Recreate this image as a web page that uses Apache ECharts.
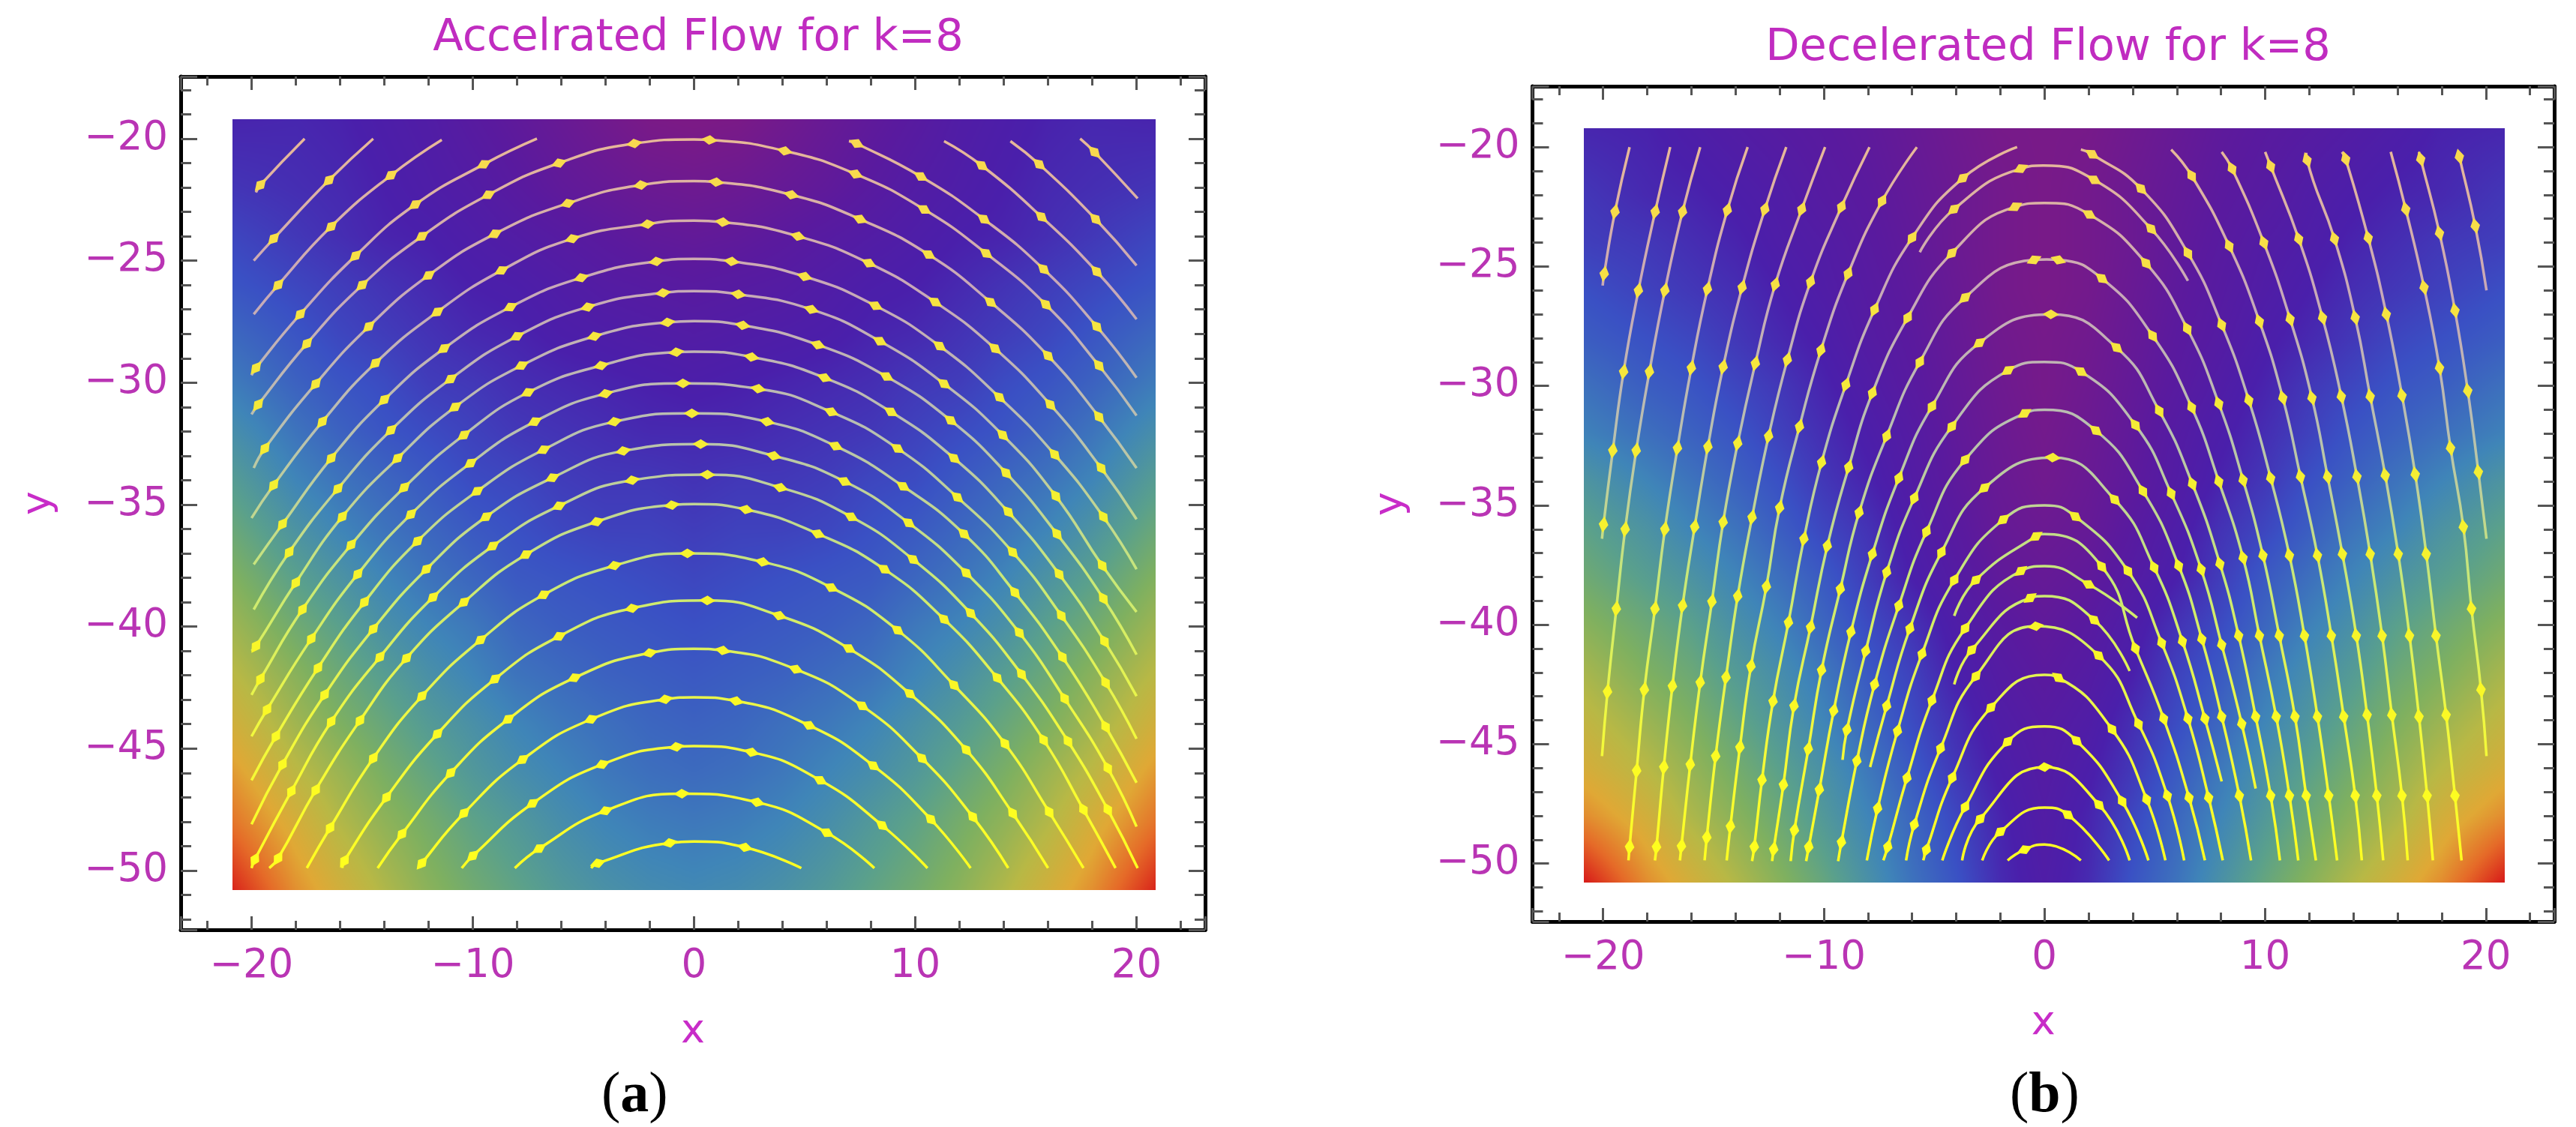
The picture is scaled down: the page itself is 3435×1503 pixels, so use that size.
<!DOCTYPE html>
<html>
<head>
<meta charset="utf-8">
<title>Accelerated and decelerated flow for k=8</title>
<style>html,body{margin:0;padding:0;background:#fff}#chart{width:3435px;height:1503px}</style>
<script src="https://cdn.jsdelivr.net/npm/echarts@6/dist/echarts.min.js"></script>
</head>
<body>
<div id="chart"></div>
<script>
// ---- Colour field, 0..100 on the colour scale. Columns x = -20..0 (picture is mirror-symmetric), rows y = -20..-50.
const fieldX = [-20,-18,-16,-14,-12,-10,-8,-6,-4,-2,0];
const fieldY = [-20,-22,-24,-26,-28,-30,-32,-34,-36,-38,-40,-42,-44,-46,-48,-50];
const accelField = [
[22,22,21,19,17,14,11,8,5,2,1],
[24,23,22,20,18,16,13,10,8,6,5],
[27,25,23,21,20,18,16,14,12,10,9],
[30,28,26,24,22,20,19,17,15,14,13],
[34,31,28,26,24,22,21,19,18,17,16],
[38,34,31,29,26,25,23,22,21,20,19],
[43,38,34,31,29,27,25,24,23,22,22],
[48,42,38,35,32,29,28,26,25,25,24],
[53,47,42,38,35,32,30,28,27,27,26],
[58,52,47,42,38,35,32,31,30,29,28],
[63,57,52,46,42,39,35,33,32,31,30],
[68,62,56,51,46,42,38,36,34,33,32],
[73,66,60,55,50,46,42,39,37,35,34],
[79,71,65,59,54,49,45,42,39,37,36],
[85,77,69,63,58,53,49,45,42,40,39],
[92,82,74,67,61,56,52,48,45,43,42]];
const decelField = [
[22,21,19,17,15,13,11,8,5,2,1],
[24,22,21,19,17,14,12,9,6,3,1],
[26,25,23,21,18,16,13,10,6,3,1],
[29,27,25,23,20,17,14,11,7,3,1],
[32,30,28,25,22,19,15,12,8,4,2],
[36,33,31,28,25,21,17,13,9,5,2],
[40,37,34,31,27,23,19,15,10,6,3],
[46,42,38,34,30,25,21,16,11,7,4],
[51,47,42,38,33,28,24,18,13,8,6],
[55,51,47,42,37,32,26,20,15,10,8],
[60,56,52,46,41,35,29,24,18,13,10],
[65,60,56,50,45,39,32,27,20,15,12],
[70,65,60,54,48,42,35,29,23,17,14],
[75,70,64,58,52,46,39,32,25,19,15],
[82,76,68,62,56,49,42,35,28,21,16],
[92,82,74,67,60,53,45,37,30,22,17]];

// ---- Streamlines: [x, y]; interior points carry an arrow unless flagged with a third element.
const accelLines = [
[[-19.8,-22.2],[-19.6,-21.9],[-17.6,-20]],
[[-19.9,-25],[-19,-24.1],[-16.5,-21.7],[-14.5,-20]],
[[-19.9,-27.2],[-18.8,-26],[-16.4,-23.6],[-13.7,-21.5],[-11.4,-20.05]],
[[-20,-29.7],[-19.8,-29.4],[-17.8,-27.2],[-15.3,-24.8],[-12.6,-22.7],[-9.5,-21.05],[-7.1,-20]],
[[-20,-31.3],[-19.7,-30.9],[-17.5,-28.4],[-15,-26],[-12.3,-24],[-9.3,-22.3],[-6.1,-21],[-2.7,-20.2],[0,-20.03,0],[0.7,-20.05],[4.1,-20.5],[7.3,-21.45],[10.4,-22.9],[13.2,-24.7],[15.9,-26.8],[18.3,-29.3],[20,-31.35]],
[[-19.9,-33.5],[-19.4,-32.7],[-17.1,-30.05],[-14.7,-27.7],[-12,-25.6],[-9,-23.9],[-5.7,-22.65],[-2.4,-21.9],[0,-21.74,0],[1,-21.78],[4.4,-22.3],[7.5,-23.3],[10.6,-24.75],[13.4,-26.7],[16,-28.9],[18.3,-31.4],[20,-33.5]],
[[-20,-35.55],[-19,-34.2],[-16.8,-31.6],[-14.4,-29.2],[-11.6,-27.1],[-8.7,-25.4],[-5.5,-24.1],[-2.1,-23.5],[0,-23.36,0],[1.3,-23.42],[4.7,-24],[7.9,-25.1],[10.9,-26.7],[13.6,-28.6],[16.1,-30.9],[18.4,-33.5],[20,-35.6]],
[[-19.9,-37.45],[-18.6,-35.8],[-16.4,-33.1],[-14,-30.7],[-11.3,-28.6],[-8.3,-26.9],[-5.1,-25.7],[-1.7,-25.03],[0,-24.93,0],[1.7,-25.03],[5,-25.65],[8.2,-26.85],[11.1,-28.5],[13.8,-30.6],[16.3,-32.95],[18.5,-35.5],[20,-37.65]],
[[-19.9,-39.3],[-18.3,-36.95],[-16.1,-34.35],[-13.7,-31.95],[-11,-29.85],[-8,-28.1],[-4.8,-26.9],[-1.4,-26.32],[0,-26.25,0],[2,-26.38],[5.3,-27],[8.4,-28.3],[11.3,-30.05],[13.95,-32.15],[16.35,-34.65],[18.45,-37.5],[20,-39.4]],
[[-20,-41],[-19.8,-40.8],[-18,-38.2],[-15.9,-35.5],[-13.4,-33.1],[-10.8,-31],[-7.8,-29.3],[-4.5,-28.1],[-1.2,-27.53],[0,-27.48,0],[2.2,-27.65],[5.6,-28.45],[8.7,-29.75],[11.6,-31.55],[14.1,-33.7],[16.4,-36.2],[18.5,-38.85],[20,-41.15]],
[[-20,-42.8],[-19.6,-42.15],[-17.7,-39.3],[-15.5,-36.65],[-13.1,-34.3],[-10.4,-32.15],[-7.5,-30.4],[-4.2,-29.3],[-0.8,-28.75],[0,-28.73,0],[2.6,-28.95],[5.9,-29.8],[8.9,-31.2],[11.75,-33.1],[14.2,-35.3],[16.5,-37.85],[18.55,-40.6],[20,-42.85]],
[[-20,-44.5],[-19.3,-43.4],[-17.3,-40.5],[-15.2,-37.85],[-12.8,-35.4],[-10.1,-33.3],[-7.2,-31.6],[-4,-30.45],[-0.5,-30.03],[2.9,-30.25],[6.2,-31.2],[9.2,-32.7],[11.9,-34.7],[14.4,-36.95],[16.6,-39.55],[18.6,-42.3],[20,-44.6]],
[[-20,-46.3],[-18.9,-44.5],[-17,-41.7],[-14.9,-39],[-12.5,-36.5],[-9.8,-34.45],[-6.8,-32.75],[-3.6,-31.6],[-0.1,-31.26],[3.3,-31.6],[6.4,-32.6],[9.45,-34.25],[12.2,-36.2],[14.5,-38.6],[16.65,-41.25],[18.6,-44.1],[20,-46.4]],
[[-20,-48.1],[-18.6,-45.65],[-16.7,-42.8],[-14.5,-40.1],[-12.1,-37.65],[-9.4,-35.5],[-6.4,-33.9],[-3.2,-32.8],[0.3,-32.52],[3.6,-33],[6.8,-34.05],[9.7,-35.75],[12.3,-37.8],[14.7,-40.25],[16.75,-42.95],[18.7,-45.8],[20,-48.2]],
[[-20,-49.9],[-19.85,-49.55],[-18.2,-46.75],[-16.4,-43.9],[-14.2,-41.25],[-11.8,-38.8],[-9.1,-36.7],[-6.1,-35.05],[-2.8,-34],[0.6,-33.77],[3.9,-34.3],[7.1,-35.5],[9.9,-37.25],[12.5,-39.45],[14.8,-41.95],[16.9,-44.7],[18.7,-47.5],[20.05,-49.9]],
[[-19.2,-49.9],[-18.8,-49.5],[-17.1,-46.7],[-15.1,-43.85],[-13,-41.3],[-10.4,-39],[-7.6,-37.05],[-4.4,-35.7],[-1,-35.02],[0,-34.98,0],[2.35,-35.2],[5.6,-36.2],[8.6,-37.65],[11.3,-39.7],[13.7,-42.1],[15.8,-44.65],[17.6,-47.5],[19.05,-49.9]],
[[-17.5,-49.9],[-16.45,-48.25],[-14.5,-45.4],[-12.3,-42.85],[-9.65,-40.55],[-6.8,-38.7],[-3.6,-37.5],[-0.3,-37],[3.1,-37.35],[6.2,-38.4],[9.2,-40.15],[11.75,-42.4],[14.05,-44.8],[16.05,-47.6],[17.6,-49.9]],
[[-15.9,-49.9],[-15.8,-49.6],[-13.9,-47],[-11.6,-44.4],[-9,-42.15],[-6.1,-40.4],[-2.8,-39.25],[0.6,-38.93],[3.85,-39.55],[7,-40.9],[9.75,-42.75],[12.3,-45.05],[14.4,-47.65],[16,-49.9]],
[[-14.3,-49.9],[-13.2,-48.5],[-11,-46],[-8.4,-43.8],[-5.4,-42.1],[-2,-41.08],[0,-40.91,0],[1.3,-40.98],[4.6,-41.75],[7.6,-43.25],[10.3,-45.4],[12.6,-47.8],[14.2,-49.9]],
[[-12.4,-49.9],[-12.3,-49.7],[-10.4,-47.65],[-7.75,-45.45],[-4.65,-43.8],[-1.3,-42.98],[0,-42.9,0],[1.9,-43.05],[5.2,-44.05],[8.1,-45.7],[10.7,-47.9],[12.5,-49.9]],
[[-10.5,-49.9],[-10,-49.4],[-7.3,-47.25],[-4.15,-45.65],[-0.8,-44.93],[0,-44.9,0],[2.6,-45.15],[5.7,-46.3],[8.5,-48.15],[10.55,-49.9]],
[[-8.1,-49.9],[-7,-49.1],[-4,-47.55],[-0.55,-46.85],[2.85,-47.2],[6,-48.45],[8.15,-49.9]],
[[-4.65,-49.9],[-4.35,-49.7],[-1.1,-48.87],[0,-48.81,0],[2.3,-49.05],[4.85,-49.9]],
[[17.45,-20],[18.1,-20.55],[20.05,-22.45]],
[[14.3,-20.1],[15.6,-21.05],[18.15,-23.3],[20,-25.2]],
[[11.3,-20.1],[13,-21.1],[15.7,-23.2],[18.2,-25.45],[20,-27.4]],
[[7,-20.1],[7.35,-20.2],[10.25,-21.55],[13.1,-23.3],[15.8,-25.35],[18.2,-27.7],[20,-29.8]]
];
const decelLines = [
[[-18.8,-20],[-19.46,-22.7],[-19.95,-25.3],[-20.02,-25.8]],
[[-16.96,-20],[-17.64,-22.7],[-18.4,-26],[-19.07,-29.4],[-19.56,-32.7],[-19.98,-35.8],[-20.05,-36.4]],
[[-15.6,-20],[-16.4,-22.7],[-17.2,-26],[-17.9,-29.4],[-18.5,-32.7],[-19,-36],[-19.4,-39.33],[-19.8,-42.8],[-20.05,-45.5]],
[[-13.45,-20],[-14.37,-22.64],[-15.27,-25.94],[-16,-29.24],[-16.63,-32.6],[-17.2,-36],[-17.65,-39.33],[-18.13,-42.72],[-18.48,-46.11],[-18.8,-49.3],[-18.85,-49.87]],
[[-11.7,-20],[-12.67,-22.6],[-13.7,-25.87],[-14.56,-29.2],[-15.25,-32.54],[-15.85,-35.9],[-16.4,-39.2],[-16.86,-42.57],[-17.25,-45.96],[-17.58,-49.3],[-17.65,-49.87]],
[[-9.94,-20],[-11,-22.6],[-12.2,-25.75],[-13.1,-29.05],[-13.9,-32.4],[-14.56,-35.7],[-15.07,-39.03],[-15.6,-42.42],[-16.05,-45.85],[-16.45,-49.27],[-16.52,-49.87]],
[[-7.93,-20],[-9.2,-22.5],[-10.6,-25.64],[-11.65,-28.9],[-12.5,-32.1],[-13.25,-35.5],[-13.9,-38.8],[-14.43,-42.2],[-14.9,-45.5],[-15.3,-48.9],[-15.4,-49.87]],
[[-5.78,-20],[-7.36,-22.26],[-8.9,-25.3],[-10.13,-28.5],[-11.1,-31.7],[-12,-35.1],[-12.6,-38.4],[-13.3,-41.74],[-13.8,-45.13],[-14.23,-48.44],[-14.4,-49.87]],
[[-1.24,-20],[-3.7,-21.3],[-6,-23.8],[-7.7,-26.8],[-9,-29.95],[-10.1,-33.2],[-10.9,-36.4],[-11.6,-39.9],[-12.3,-43.2],[-12.8,-46.5],[-13.15,-49.3],[-13.25,-49.9]],
[[1.65,-20.1],[2.16,-20.3],[4.37,-21.74],[6.5,-24.44],[8.03,-27.44],[9.26,-30.6],[10.25,-33.86],[11.1,-37.1],[11.78,-40.46],[12.37,-43.85],[12.88,-47.16],[13.26,-49.87]],
[[-5.65,-24.4],[-4.1,-22.6],[-1.07,-20.9],[-0.05,-20.77,0],[2.25,-21.37],[4.83,-23.42],[6.5,-25.6]],
[[-12.34,-49.9],[-12.27,-49.4],[-11.83,-46.7],[-11.35,-43.4],[-10.6,-40.1],[-9.84,-36.7],[-8.87,-33.4],[-7.8,-30.3],[-6.2,-27.14],[-4.2,-24.44],[-1.33,-22.5],[0,-22.34,0],[2.03,-22.82],[4.6,-24.86],[6.47,-27.6],[7.9,-30.74],[9,-33.94],[9.9,-37.1],[10.64,-40.46],[11.35,-43.85],[11.86,-47.16],[12.3,-49.87]],
[[-11.5,-49.9],[-11.33,-48.6],[-10.7,-45.2],[-10.1,-41.9],[-9.25,-38.5],[-8.4,-35.3],[-7.15,-32.1],[-5.65,-29],[-3.6,-26.3],[-0.47,-24.72],[0.1,-24.7,0],[0.63,-24.72],[2.6,-25.5],[4.9,-27.9],[6.67,-30.9],[7.9,-34],[9,-37.2],[9.74,-40.46],[10.5,-43.85],[11.1,-47.16],[11.5,-49.87]],
[[-10.8,-49.9],[-10.68,-49.3],[-10.2,-46.9],[-9.55,-43.6],[-8.77,-40.3],[-7.8,-37.04],[-6.6,-33.86],[-5.1,-30.86],[-2.95,-28.2],[0.29,-27],[3.27,-28.4],[5.2,-31.04],[6.7,-34.1],[7.95,-37.45],[8.8,-40.46],[9.57,-43.85],[10.25,-47.16],[10.67,-49.87]],
[[-9.15,-45.66],[-8.95,-44.4],[-8.1,-41.1],[-7.15,-37.8],[-5.9,-34.7],[-4.2,-31.7],[-1.65,-29.35],[0,-29,0],[1.65,-29.4],[4.12,-31.64],[5.74,-34.5],[7.1,-37.68],[8.03,-40.84],[8.94,-44.15],[9.57,-46.86]],
[[-9.35,-49.9],[-9.2,-49.1],[-8.5,-45.7],[-7.7,-42.5],[-6.6,-39.2],[-5.35,-36.1],[-3.6,-33.1],[-0.9,-31.15],[0,-31,0],[2.33,-31.87],[4.46,-34.4],[6.08,-37.53],[7.13,-40.6],[8.03,-43.85],[8.83,-47.16],[9.36,-49.87]],
[[-7.9,-45.96],[-7.15,-43.4],[-6.1,-40.16],[-4.67,-36.97],[-2.72,-34.27],[0.37,-33],[3.18,-34.76],[4.97,-37.6],[6.25,-40.69],[7.27,-43.93],[8.03,-46.56]],
[[-8.05,-49.87],[-7.56,-47.69],[-6.66,-44.45],[-5.55,-41.22],[-4.09,-38.13],[-1.87,-35.6],[0,-35,0],[1.4,-35.47],[3.78,-37.75],[5.31,-40.76],[6.5,-43.93],[7.44,-47.24],[8.08,-49.87]],
[[-4.09,-39.63],[-3.11,-38.13],[-0.39,-36.3],[0,-36.2,0],[2.59,-37.56],[4.12,-40.99],[5.4,-43.93],[6.55,-47.24],[7.27,-49.87]],
[[-7.3,-49.87],[-7.1,-49.3],[-6.23,-46.41],[-5.1,-43.17],[-3.6,-40.16],[-1.07,-37.75],[0,-37.55,0],[2,-38.31],[4.2,-39.71]],
[[-4.09,-42.5],[-3.3,-41.06],[-0.65,-38.88],[0,-38.8,0],[2.25,-39.8],[3.86,-41.94]],
[[-6.27,-49.87],[-5.9,-48.37],[-4.71,-45.18],[-3.11,-42.16],[-0.39,-40.06],[2.45,-41.29],[4.26,-44.15],[5.57,-47.16],[6.33,-49.87]],
[[-5.49,-49.87],[-5.35,-49.42],[-4.18,-46.41],[-2.43,-43.47],[0,-42.1,0],[0.63,-42.22],[3.06,-44.38],[4.63,-47.31],[5.48,-49.87]],
[[-4.63,-49.87],[-3.6,-47.64],[-1.67,-44.9],[0,-44.26,0],[1.45,-44.86],[3.52,-47.39],[4.71,-49.87]],
[[-3.73,-49.87],[-2.92,-48.14],[0,-45.96],[2.47,-47.54],[3.86,-49.87]],
[[-2.82,-49.87],[-2,-48.67],[0,-47.66,0],[1.06,-47.96],[2.93,-49.87]],
[[-1.67,-49.87],[-0.9,-49.42],[0,-49.2,0],[1.65,-49.87]],
[[18.76,-20.2],[18.8,-20.4],[19.52,-23.3],[20.03,-26]],
[[16.97,-20.2],[17.05,-20.5],[17.9,-23.6],[18.6,-26.84],[19.18,-30.2],[19.66,-33.6],[20.03,-36.4]],
[[15.69,-20.2],[16.37,-22.6],[17.2,-25.87],[17.9,-29.24],[18.4,-32.6],[18.98,-35.9],[19.35,-39.33],[19.78,-42.72],[20.03,-45.5]],
[[13.48,-20.2],[13.65,-20.5],[14.67,-23.8],[15.49,-27],[16.2,-30.4],[16.8,-33.7],[17.3,-37.04],[17.74,-40.46],[18.2,-43.78],[18.6,-47.16],[18.9,-49.87]],
[[11.86,-20.24],[11.9,-20.54],[13.14,-23.84],[14.08,-27.14],[14.76,-30.44],[15.44,-33.74],[16.03,-37.04],[16.54,-40.46],[16.97,-43.85],[17.34,-47.16],[17.6,-49.87]],
[[10,-20.2],[10.25,-20.8],[11.52,-23.84],[12.6,-27.14],[13.45,-30.44],[14.16,-33.8],[14.76,-37.04],[15.3,-40.46],[15.74,-43.78],[16.2,-47.16],[16.46,-49.87]],
[[8.03,-20.2],[8.5,-20.9],[9.94,-24],[11.13,-27.2],[12.12,-30.5],[12.83,-33.8],[13.5,-37.04],[14.13,-40.46],[14.62,-43.78],[15.06,-47.16],[15.35,-49.87]],
[[5.74,-20.1],[6.67,-21.2],[8.37,-24.14],[9.74,-27.3],[10.8,-30.5],[11.6,-33.8],[12.37,-37.1],[13,-40.46],[13.56,-43.85],[14.08,-47.16],[14.38,-49.87]]
];

const titles = ['Accelrated Flow for k=8', 'Decelerated Flow for k=8'];
const captions = ['a', 'b'];
const xRange = [-23.2, 23.1], yRange = [-52.43, -17.45];
const fieldExtentX = [-20.87, 20.87], fieldExtentY = [-50.8, -19.2];

// ---- Colour scale of the background
const colorStops = [[0,[123,26,134]],[.12,[90,26,158]],[.2,[74,31,171]],[.3,[58,80,196]],[.42,[63,133,184]],[.52,[90,160,140]],[.6,[126,176,96]],[.7,[184,184,69]],[.8,[224,168,53]],[.9,[229,106,40]],[1,[216,32,26]]];
function colorAt(t){
  t=Math.max(0,Math.min(1,t));
  for(let i=1;i<colorStops.length;i++){
    if(t<=colorStops[i][0]){
      const a=colorStops[i-1],b=colorStops[i],f=(t-a[0])/(b[0]-a[0]);
      return [0,1,2].map(k=>a[1][k]+(b[1][k]-a[1][k])*f);
    }
  }
  return colorStops[colorStops.length-1][1];
}
// whole-width rows: left half as read, right half its mirror
const fullX = fieldX.concat(fieldX.slice(0,-1).reverse().map(v=>-v));
const fullRows = f => f.map(r=>r.concat(r.slice(0,-1).reverse()));
function cells(f){
  const out=[], rows=fullRows(f);
  rows.forEach((r,j)=>r.forEach((v,i)=>out.push([fullX[i],fieldY[j],v])));
  return out;
}
// Per panel shaded picture, cropped by each cell so neighbouring cells blend
function buildShade(f,w,h){
  const rows=fullRows(f), c=document.createElement('canvas');
  c.width=w;c.height=h;
  const g=c.getContext('2d'), img=g.createImageData(w,h);
  const nx=fullX.length, ny=fieldY.length;
  for(let py=0;py<h;py++){
    const dy=fieldExtentY[1]+(fieldExtentY[0]-fieldExtentY[1])*(py+.5)/h;
    const fy=(fieldY[0]-dy)/2, j=Math.max(0,Math.min(ny-2,Math.floor(fy))), ty=fy-j;
    for(let px=0;px<w;px++){
      const dx=fieldExtentX[0]+(fieldExtentX[1]-fieldExtentX[0])*(px+.5)/w;
      const fx=(dx-fullX[0])/2, i=Math.max(0,Math.min(nx-2,Math.floor(fx))), tx=fx-i;
      const v=(rows[j][i]*(1-tx)+rows[j][i+1]*tx)*(1-ty)+(rows[j+1][i]*(1-tx)+rows[j+1][i+1]*tx)*ty;
      const col=colorAt(v/100), o=(py*w+px)*4;
      img.data[o]=col[0];img.data[o+1]=col[1];img.data[o+2]=col[2];img.data[o+3]=255;
    }
  }
  g.putImageData(img,0,0);
  return c;
}
function heatSeries(f,idx){
  let shade=null, ox=0, oy=0;
  return {
    type:'custom', coordinateSystem:'cartesian2d', xAxisIndex:idx*2, yAxisIndex:idx*2, silent:true, clip:false, z:1,
    encode:{x:0,y:1}, data:cells(f),
    renderItem(params,api){
      const tl=api.coord([fieldExtentX[0],fieldExtentY[1]]), br=api.coord([fieldExtentX[1],fieldExtentY[0]]);
      ox=Math.round(tl[0]);oy=Math.round(tl[1]);
      const W=Math.round(br[0])-ox,H=Math.round(br[1])-oy;
      if(!shade) shade=buildShade(f,W,H);
      const x=api.value(0),y=api.value(1);
      const a=api.coord([Math.max(x-1,fieldExtentX[0]),Math.min(y+1,fieldExtentY[1])]);
      const b=api.coord([Math.min(x+1,fieldExtentX[1]),Math.max(y-1,fieldExtentY[0])]);
      const x0=Math.round(a[0]),y0=Math.round(a[1]),x1=Math.round(b[0]),y1=Math.round(b[1]);
      return {type:'image',silent:true,style:{image:shade,x:x0,y:y0,width:x1-x0,height:y1-y0,sx:x0-ox,sy:y0-oy,sWidth:x1-x0,sHeight:y1-y0}};
    }
  };
}
function arrowPoints(lines){
  const out=[], kx=29.5, ky=32;
  lines.forEach(l=>{
    for(let i=1;i<l.length-1;i++){
      if(l[i].length>2) continue;
      const tx=(l[i+1][0]-l[i-1][0])*kx, ty=(l[i+1][1]-l[i-1][1])*ky;
      out.push([l[i][0],l[i][1],Math.atan2(-tx,ty)*180/Math.PI]);
    }
  });
  return out;
}

const ink='#b934b4', font='DejaVu Sans';
const fmt=v=>String(v).replace('-','\u2212');
function xAxisOf(pos,name,labels,grid){
  return {type:'value',gridIndex:grid,position:pos,min:xRange[0],max:xRange[1],minInterval:10,maxInterval:10,
    name:name,nameLocation:'middle',nameGap:109,nameTextStyle:{color:'#c82cc8',fontFamily:font,fontSize:54},
    axisLine:{show:true,onZero:false,lineStyle:{color:'#000',width:5}},
    axisTick:{show:true,inside:true,length:18,lineStyle:{color:'#555',width:3}},
    minorTick:{show:true,splitNumber:5,length:12,lineStyle:{color:'#555',width:3}},
    splitLine:{show:false},minorSplitLine:{show:false},
    axisLabel:{show:labels,margin:23,color:ink,fontFamily:font,fontSize:53,showMinLabel:false,showMaxLabel:false,formatter:fmt}};
}
function yAxisOf(pos,name,labels,grid){
  return {type:'value',gridIndex:grid,position:pos,min:yRange[0],max:yRange[1],minInterval:5,maxInterval:5,
    name:name,nameLocation:'middle',nameGap:162,nameRotate:90,nameTextStyle:{color:'#c82cc8',fontFamily:font,fontSize:54},
    axisLine:{show:true,onZero:false,lineStyle:{color:'#000',width:5}},
    axisTick:{show:true,inside:true,length:22,lineStyle:{color:'#555',width:3}},
    minorTick:{show:true,splitNumber:5,length:14,lineStyle:{color:'#555',width:3}},
    splitLine:{show:false},minorSplitLine:{show:false},
    axisLabel:{show:labels,margin:17,color:ink,fontFamily:font,fontSize:53,showMinLabel:false,showMaxLabel:false,formatter:fmt}};
}

const series=[heatSeries(accelField,0),heatSeries(decelField,1)];
const lineIdx=[],arrowIdx=[];
[accelLines,decelLines].forEach((set,p)=>{
  set.forEach(l=>{
    lineIdx.push(series.length);
    series.push({type:'line',xAxisIndex:p*2,yAxisIndex:p*2,data:l.map(q=>[q[0],q[1]]),smooth:.5,showSymbol:false,silent:true,clip:false,z:2,lineStyle:{width:3.5}});
  });
});
[accelLines,decelLines].forEach((set,p)=>{
  arrowIdx.push(series.length);
  series.push({type:'scatter',xAxisIndex:p*2,yAxisIndex:p*2,data:arrowPoints(set),symbol:'diamond',symbolSize:[13,22],symbolRotate:v=>v[2],silent:true,clip:false,z:3,itemStyle:{opacity:1}});
});

const chart=echarts.init(document.getElementById('chart'),null,{renderer:'canvas'});
const capRich={n:{fontFamily:'Liberation Serif',fontSize:76,fill:'#000'},b:{fontFamily:'Liberation Serif',fontSize:76,fontWeight:'bold',fill:'#000'}};
chart.setOption({
  animation:false,backgroundColor:'#fff',
  title:[
    {text:titles[0],left:926,top:17,textAlign:'center',textStyle:{color:'#c02cc0',fontFamily:font,fontWeight:'normal',fontSize:59}},
    {text:titles[1],left:2726,top:30,textAlign:'center',textStyle:{color:'#c02cc0',fontFamily:font,fontWeight:'normal',fontSize:59}}
  ],
  grid:[{left:241,top:102,width:1366,height:1138},{left:2043.5,top:115,width:1362.5,height:1114}],
  xAxis:[xAxisOf('bottom','x',true,0),xAxisOf('top','',false,0),xAxisOf('bottom','x',true,1),xAxisOf('top','',false,1)],
  yAxis:[yAxisOf('left','y',true,0),yAxisOf('right','',false,0),yAxisOf('left','y',true,1),yAxisOf('right','',false,1)],
  visualMap:[
    {show:false,type:'continuous',dimension:1,min:-50,max:-20,seriesIndex:lineIdx,inRange:{color:['#ffff20','#f0f840','#c8e878','#b8c0b0','#c8a8b8','#e8b898']}},
    {show:false,type:'continuous',dimension:1,min:-50,max:-20,seriesIndex:arrowIdx,inRange:{color:['#ffff1e','#f4f030','#f8d850']}}
  ],
  graphic:[
    {type:'text',left:802,top:1424,style:{text:'{n|(}{b|'+captions[0]+'}{n|)}',rich:capRich}},
    {type:'text',left:2680,top:1424,style:{text:'{n|(}{b|'+captions[1]+'}{n|)}',rich:capRich}}
  ],
  series:series
});
</script>
</body>
</html>
